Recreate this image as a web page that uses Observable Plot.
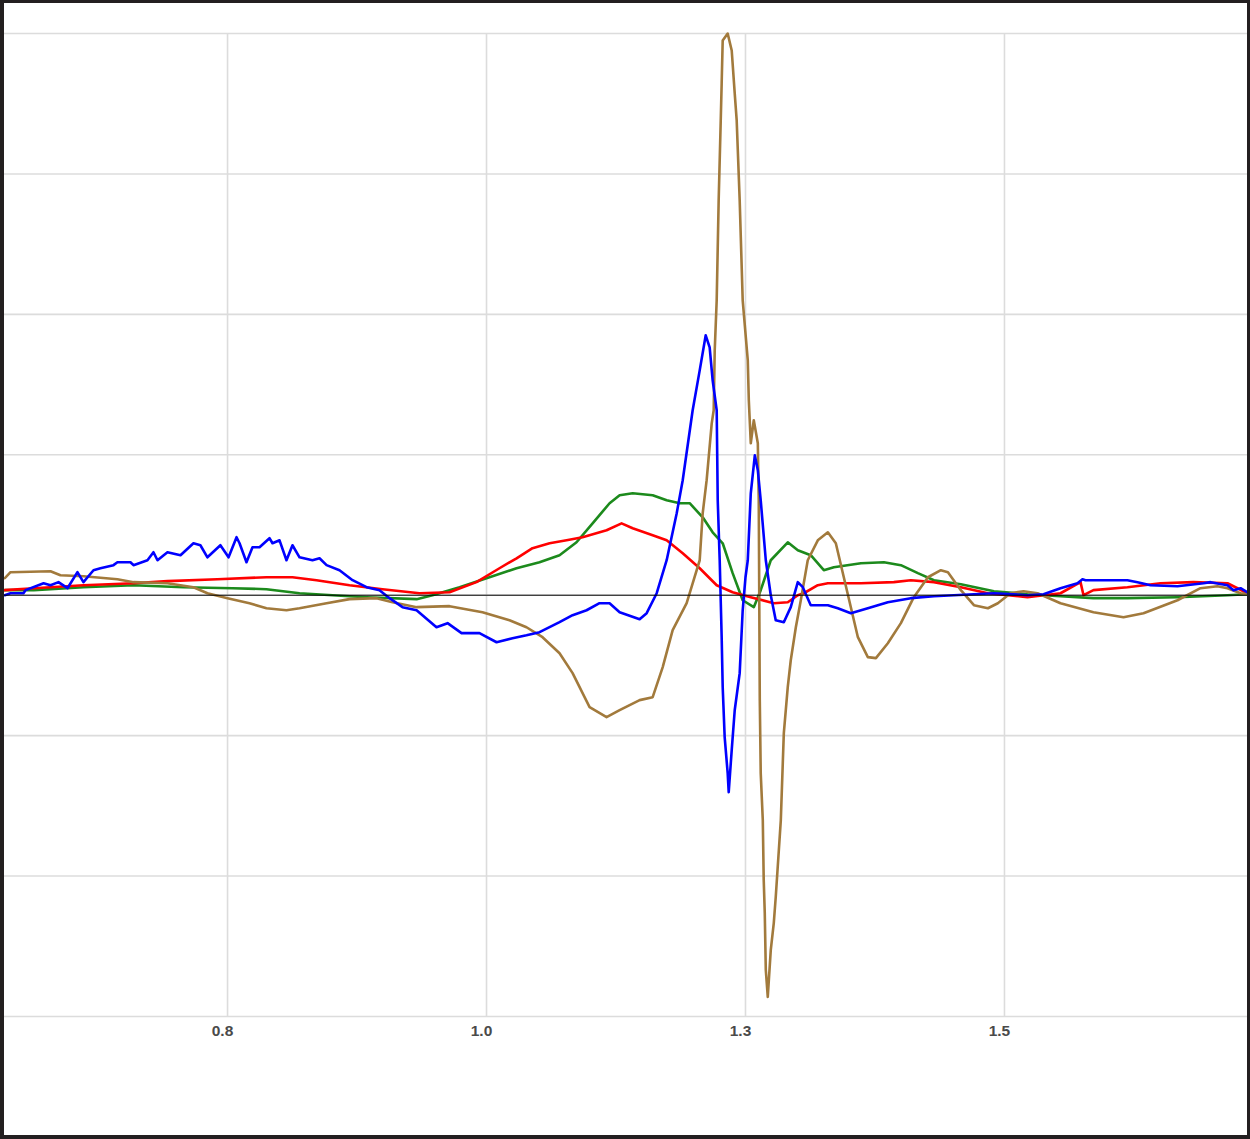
<!DOCTYPE html>
<html><head><meta charset="utf-8">
<script src="https://cdn.jsdelivr.net/npm/d3@7"></script>
<script src="https://cdn.jsdelivr.net/npm/@observablehq/plot@0.6"></script>
<style>
html,body{margin:0;padding:0;background:#fff;}
#frame{width:1250px;height:1139px;box-sizing:border-box;border-style:solid;border-color:#231f20;border-width:3px 3px 4px 4px;overflow:hidden;background:#fff;}
#frame svg{display:block;}
</style></head><body><div id="frame"></div>
<script>
const xTicks = [0.8, 1.05, 1.3, 1.55];
const xTickLabels = ["0.8", "1.0", "1.3", "1.5"];
const yGrid = [-3, -2, -1, 0, 1, 2, 3, 4];

const blueX = [0.585,0.5905,0.603,0.605,0.6224,0.6291,0.6368,0.6455,0.6551,0.6609,0.6706,0.6773,0.6899,0.6937,0.7063,0.7092,0.7227,0.7285,0.7324,0.742,0.7546,0.7671,0.7738,0.7806,0.7931,0.801,0.8087,0.8116,0.8183,0.8241,0.8309,0.8405,0.8434,0.8502,0.8569,0.8627,0.8695,0.882,0.8888,0.8956,0.9081,0.9207,0.9342,0.9467,0.9564,0.9689,0.9825,1.0017,1.0124,1.0259,1.0432,1.0597,1.0751,1.0886,1.1012,1.1205,1.1331,1.1466,1.1591,1.1688,1.1785,1.1978,1.2046,1.2143,1.2239,1.2336,1.2394,1.249,1.2558,1.2616,1.2654,1.2683,1.2722,1.2732,1.2751,1.277,1.278,1.2799,1.2828,1.2838,1.2867,1.2896,1.2944,1.2973,1.3,1.3022,1.3051,1.309,1.3119,1.3147,1.3196,1.3244,1.3292,1.337,1.3437,1.3505,1.3553,1.363,1.3795,1.3891,1.4017,1.4181,1.4374,1.4596,1.4819,1.5398,1.5722,1.5877,1.6041,1.6205,1.6253,1.6282,1.6687,1.6784,1.6909,1.717,1.7421,1.7489,1.7653,1.7711,1.7779,1.7846];
const blueY = [0,0.014,0.014,0.036,0.085,0.071,0.093,0.05,0.164,0.093,0.178,0.192,0.214,0.235,0.235,0.214,0.249,0.306,0.249,0.306,0.285,0.37,0.356,0.27,0.356,0.27,0.413,0.37,0.235,0.342,0.342,0.406,0.37,0.391,0.249,0.356,0.27,0.249,0.263,0.214,0.178,0.107,0.057,0.036,-0.021,-0.085,-0.107,-0.228,-0.199,-0.27,-0.27,-0.335,-0.306,-0.285,-0.263,-0.192,-0.142,-0.107,-0.057,-0.057,-0.121,-0.171,-0.128,0.014,0.249,0.584,0.819,1.317,1.601,1.851,1.765,1.53,1.317,0.676,0.249,-0.299,-0.655,-1.011,-1.267,-1.402,-1.103,-0.819,-0.555,-0.107,0.128,0.249,0.726,0.996,0.89,0.676,0.249,0,-0.178,-0.192,-0.085,0.093,0.057,-0.071,-0.071,-0.093,-0.128,-0.093,-0.05,-0.021,-0.007,0.014,0,0.007,0.05,0.085,0.114,0.107,0.107,0.093,0.071,0.064,0.085,0.093,0.071,0.036,0.05,0.021];

const redX = [0.585,0.613,0.6609,0.7092,0.742,0.7902,0.8376,0.8627,0.8859,0.9178,0.9496,0.9853,1.0143,1.0403,1.0625,1.079,1.0944,1.1109,1.1273,1.1427,1.1659,1.1804,1.1911,1.2104,1.2239,1.2394,1.2558,1.2722,1.2876,1.3051,1.3273,1.3408,1.3505,1.3563,1.3698,1.3795,1.4114,1.4432,1.4596,1.4819,1.5079,1.534,1.5722,1.6041,1.6234,1.6263,1.6359,1.6687,1.7006,1.7324,1.7653,1.7846];
const redY = [0.036,0.05,0.071,0.085,0.1,0.114,0.128,0.128,0.107,0.071,0.043,0.014,0.021,0.093,0.192,0.263,0.335,0.37,0.391,0.413,0.463,0.512,0.477,0.427,0.391,0.299,0.192,0.071,0.021,-0.014,-0.057,-0.05,0,0.014,0.071,0.085,0.085,0.093,0.107,0.093,0.057,0.014,-0.014,0.014,0.093,0,0.036,0.057,0.085,0.093,0.085,0.014];

const greenX = [0.585,0.613,0.6609,0.7092,0.7575,0.8048,0.8376,0.8695,0.9014,0.9342,0.9825,0.9979,1.024,1.05,1.079,1.1012,1.1205,1.1369,1.1524,1.1688,1.1785,1.1911,1.2104,1.2239,1.2365,1.2461,1.2587,1.2683,1.278,1.2876,1.2973,1.308,1.3147,1.3244,1.3408,1.3505,1.363,1.3756,1.3853,1.4114,1.4336,1.45,1.4664,1.4819,1.5079,1.5398,1.5722,1.6041,1.6359,1.6687,1.717,1.7653,1.7846];
const greenY = [0.036,0.036,0.057,0.071,0.057,0.05,0.043,0.014,0,-0.014,-0.028,0,0.057,0.121,0.192,0.235,0.285,0.377,0.512,0.655,0.712,0.726,0.712,0.676,0.655,0.655,0.555,0.448,0.37,0.157,-0.036,-0.085,0.036,0.249,0.377,0.32,0.285,0.178,0.199,0.228,0.235,0.214,0.157,0.107,0.078,0.028,0.007,-0.007,-0.021,-0.021,-0.014,0,0.007];

const brownX = [0.585,0.5905,0.6291,0.6387,0.6609,0.6937,0.7092,0.742,0.7671,0.7806,0.8,0.8212,0.8376,0.8569,0.8695,0.8956,0.9178,0.9438,0.9593,0.9825,1.0143,1.0461,1.0722,1.0886,1.1041,1.1205,1.1331,1.1495,1.1659,1.1785,1.1978,1.2104,1.2201,1.2297,1.2432,1.249,1.2558,1.2587,1.2625,1.2674,1.2693,1.2703,1.2722,1.2741,1.2761,1.277,1.278,1.2828,1.2867,1.2896,1.2915,1.2944,1.2973,1.3022,1.3032,1.3051,1.308,1.3119,1.3128,1.3138,1.3147,1.3167,1.3176,1.3186,1.3196,1.3215,1.3244,1.3273,1.3292,1.3341,1.337,1.3408,1.3437,1.3486,1.3534,1.3601,1.3698,1.3795,1.3872,1.3949,1.4085,1.4181,1.4259,1.4374,1.45,1.4625,1.4761,1.4886,1.4954,1.5079,1.5205,1.534,1.5436,1.5558,1.5684,1.5819,1.6041,1.6359,1.6649,1.6842,1.717,1.7392,1.7556,1.7653,1.7779,1.7846];
const brownY = [0.121,0.164,0.171,0.142,0.135,0.114,0.093,0.085,0.057,0.014,-0.021,-0.057,-0.093,-0.107,-0.093,-0.057,-0.028,-0.021,-0.05,-0.085,-0.078,-0.121,-0.178,-0.228,-0.299,-0.413,-0.555,-0.797,-0.868,-0.819,-0.747,-0.726,-0.512,-0.249,-0.057,0.085,0.249,0.584,0.819,1.224,1.317,1.744,2.1,2.811,3.381,3.644,3.95,4.0,3.879,3.573,3.381,2.811,2.1,1.673,1.388,1.082,1.246,1.082,0.676,-0.747,-1.267,-1.601,-2.028,-2.263,-2.669,-2.861,-2.527,-2.335,-2.149,-1.601,-0.982,-0.655,-0.463,-0.228,-0.036,0.249,0.391,0.448,0.37,0.128,-0.299,-0.441,-0.448,-0.342,-0.199,-0.014,0.128,0.178,0.164,0.036,-0.071,-0.093,-0.057,0.014,0.028,0.014,-0.057,-0.121,-0.157,-0.128,-0.036,0.05,0.064,0.05,0.014,0.007];

const series = [
  {name: "Series G", color: "#1c8a1c", xs: greenX, ys: greenY},
  {name: "Series R", color: "#ff0000", xs: redX, ys: redY},
  {name: "Series T", color: "#a27a3c", xs: brownX, ys: brownY},
  {name: "Series B", color: "#0000ff", xs: blueX, ys: blueY}
];
const rows = series.flatMap(s => {
  const n = Math.min(s.xs.length, s.ys.length);
  return d3.range(n).map(i => ({series: s.name, x: s.xs[i], y: s.ys[i]}));
});

const chart = Plot.plot({
  width: 1243,
  height: 1132,
  marginTop: 30,
  marginBottom: 119,
  marginLeft: 0,
  marginRight: 0,
  x: {domain: [0.5847, 1.7846], axis: null},
  y: {domain: [-3, 4], axis: null},
  color: {type: "ordinal", domain: series.map(s => s.name), range: series.map(s => s.color)},
  style: {fontFamily: "Arial, 'Liberation Sans', sans-serif", background: "#fff"},
  marks: [
    Plot.ruleY(yGrid, {stroke: "#dcdcdc", strokeWidth: 1.6}),
    Plot.ruleX(xTicks, {y1: -3, y2: 4, stroke: "#dcdcdc", strokeWidth: 1.6}),
    Plot.text(xTicks, {x: d => d, text: (d, i) => xTickLabels[i], frameAnchor: "bottom", dy: 19, dx: -5, fontSize: 15.5, fontWeight: "bold", fill: "#4a4a4a"}),
    Plot.line(rows, {x: "x", y: "y", z: "series", stroke: "series", strokeWidth: 2.6, strokeLinejoin: "round"}),
    Plot.ruleY([0], {stroke: "#000", strokeWidth: 1})
  ]
});
document.getElementById("frame").appendChild(chart);
</script>
</body></html>
